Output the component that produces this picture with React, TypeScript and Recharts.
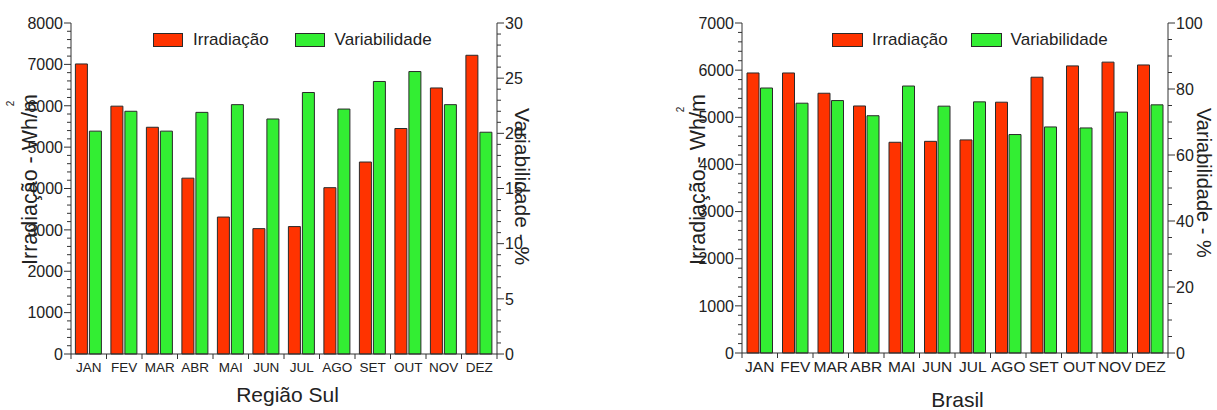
import React from 'react';
import { BarChart, Bar, XAxis, YAxis, Legend } from 'recharts';

const months = ['JAN', 'FEV', 'MAR', 'ABR', 'MAI', 'JUN', 'JUL', 'AGO', 'SET', 'OUT', 'NOV', 'DEZ'];

// Região Sul
const sulIrradiacao = [7010, 5990, 5480, 4250, 3310, 3030, 3080, 4020, 4640, 5450, 6430, 7220];
const sulVariabilidade = [20.2, 22.0, 20.2, 21.9, 22.6, 21.3, 23.7, 22.2, 24.7, 25.6, 22.6, 20.1];

// Brasil
const brasilIrradiacao = [5940, 5940, 5510, 5240, 4470, 4490, 4520, 5320, 5850, 6090, 6170, 6110];
const brasilVariabilidade = [80.3, 75.7, 76.5, 71.9, 80.9, 74.8, 76.1, 66.2, 68.5, 68.2, 73.0, 75.2];

// Axis ticks (major labels) and minor steps
const sulIrrTicks = [0, 1000, 2000, 3000, 4000, 5000, 6000, 7000, 8000];
const sulVarTicks = [0, 5, 10, 15, 20, 25, 30];
const brasilIrrTicks = [0, 1000, 2000, 3000, 4000, 5000, 6000, 7000];
const brasilVarTicks = [0, 20, 40, 60, 80, 100];
const sulIrrMinor = 200;
const sulVarMinor = 1;
const brasilIrrMinor = 200;
const brasilVarMinor = 5;

const RED = '#ff3300';
const GREEN = '#33ee33';
const BAR_STROKE = '#2a2a2a';
const AXIS = '#333333';
const TEXT = '#222222';
const FONT = '"Liberation Sans", Arial, Helvetica, sans-serif';

const sulData = months.map((m, i) => ({ m, irr: sulIrradiacao[i], vari: sulVariabilidade[i] }));
const brasilData = months.map((m, i) => ({ m, irr: brasilIrradiacao[i], vari: brasilVariabilidade[i] }));

function allTicks(majors: number[], step: number) {
  const max = majors[majors.length - 1];
  const out: number[] = [];
  for (let k = 0; k * step <= max + 1e-9; k++) out.push(Math.round(k * step * 1000) / 1000);
  return out;
}

function makeYTick(side: 'left' | 'right', majors: number[], fontSize: number) {
  return (props: any) => {
    const { x, y, payload } = props;
    const isMajor = majors.includes(payload.value);
    const len = isMajor ? 7 : 4;
    const dir = side === 'left' ? -1 : 1;
    return (
      <g>
        <line x1={x} x2={x + dir * len} y1={y} y2={y} stroke={AXIS} strokeWidth={1} />
        {isMajor && (
          <text
            x={x + dir * (len + 1)}
            y={y}
            dy="0.36em"
            textAnchor={side === 'left' ? 'end' : 'start'}
            fontSize={fontSize}
            fontFamily={FONT}
            fill={TEXT}
          >
            {payload.value}
          </text>
        )}
      </g>
    );
  };
}

function makeBottomTick(fontSize: number, labelDy: number) {
  return (props: any) => {
    const { x, y, payload, index, width } = props;
    const half = typeof payload?.offset === 'number' && payload.offset > 0 ? payload.offset : width / (months.length * 2);
    return (
      <g>
        <line x1={x - half} x2={x - half} y1={y} y2={y + 5} stroke={AXIS} />
        {index === months.length - 1 && <line x1={x + half} x2={x + half} y1={y} y2={y + 5} stroke={AXIS} />}
        <text x={x} y={y + labelDy} textAnchor="middle" fontSize={fontSize} fontFamily={FONT} fill={TEXT}>
          {payload.value}
        </text>
      </g>
    );
  };
}

function makeTopTick() {
  return (props: any) => {
    const { x, y, payload, width } = props;
    const half = typeof payload?.offset === 'number' && payload.offset > 0 ? payload.offset : width / (months.length * 2);
    return (
      <g>
        <line x1={x - half} x2={x - half} y1={y} y2={y + 4} stroke={AXIS} />
        <line x1={x} x2={x} y1={y} y2={y + 3} stroke={AXIS} />
      </g>
    );
  };
}

function makeLegend(boxW: number, textGap: number, itemGap: number) {
  return (props: any) => {
    const payload = props.payload || [];
    return (
      <div style={{ display: 'flex', alignItems: 'center', fontFamily: FONT, fontSize: 17, color: TEXT, whiteSpace: 'nowrap' }}>
        {payload.map((p: any, i: number) => (
          <div key={i} style={{ display: 'flex', alignItems: 'center', marginLeft: i ? itemGap : 0 }}>
            <span
              style={{
                display: 'inline-block',
                width: boxW,
                height: 14,
                boxSizing: 'border-box',
                background: p.dataKey === 'irr' ? RED : GREEN,
                border: `1.5px solid ${BAR_STROKE}`,
                marginRight: textGap,
              }}
            />
            <span style={{ lineHeight: '17px' }}>{p.value}</span>
          </div>
        ))}
      </div>
    );
  };
}

type PanelProps = {
  left: number;
  width: number;
  data: any[];
  irrTicks: number[];
  irrMinor: number;
  varTicks: number[];
  varMinor: number;
  leftW: number;
  rightW: number;
  xH: number;
  xFont: number;
  xDy: number;
  yFont: number;
  catGap: number;
  barGap: number;
  legendLeft: number;
  legendBox: number;
  legendTextGap: number;
  legendItemGap: number;
};

function Panel(p: PanelProps) {
  return (
    <div style={{ position: 'absolute', left: p.left, top: 0, width: p.width, height: 410 }}>
      <BarChart
        width={p.width}
        height={410}
        data={p.data}
        margin={{ top: 23, right: 0, bottom: 0, left: 0 }}
        barCategoryGap={p.catGap}
        barGap={p.barGap}
      >
        <XAxis
          xAxisId="b"
          dataKey="m"
          orientation="bottom"
          height={p.xH}
          interval={0}
          tickLine={false}
          tickSize={0}
          tickMargin={0}
          axisLine={{ stroke: AXIS }}
          tick={makeBottomTick(p.xFont, p.xDy)}
        />
        <XAxis
          xAxisId="t"
          dataKey="m"
          orientation="top"
          height={0}
          interval={0}
          tickLine={false}
          tickSize={0}
          tickMargin={0}
          axisLine={{ stroke: AXIS }}
          tick={makeTopTick()}
        />
        <YAxis
          yAxisId="l"
          orientation="left"
          type="number"
          width={p.leftW}
          domain={[0, p.irrTicks[p.irrTicks.length - 1]]}
          ticks={allTicks(p.irrTicks, p.irrMinor)}
          interval={0}
          tickLine={false}
          tickSize={0}
          tickMargin={0}
          axisLine={{ stroke: AXIS }}
          tick={makeYTick('left', p.irrTicks, p.yFont)}
        />
        <YAxis
          yAxisId="r"
          orientation="right"
          type="number"
          width={p.rightW}
          domain={[0, p.varTicks[p.varTicks.length - 1]]}
          ticks={allTicks(p.varTicks, p.varMinor)}
          interval={0}
          tickLine={false}
          tickSize={0}
          tickMargin={0}
          axisLine={{ stroke: AXIS }}
          tick={makeYTick('right', p.varTicks, p.yFont)}
        />
        <Legend
          layout="horizontal"
          verticalAlign="middle"
          align="center"
          content={makeLegend(p.legendBox, p.legendTextGap, p.legendItemGap)}
          wrapperStyle={{ position: 'absolute', left: p.legendLeft, top: 31, width: 'auto' }}
        />
        <Bar
          xAxisId="b"
          yAxisId="l"
          dataKey="irr"
          name="Irradiação"
          fill={RED}
          stroke={BAR_STROKE}
          strokeWidth={1}
          isAnimationActive={false}
        />
        <Bar
          xAxisId="b"
          yAxisId="r"
          dataKey="vari"
          name="Variabilidade"
          fill={GREEN}
          stroke={BAR_STROKE}
          strokeWidth={1}
          isAnimationActive={false}
        />
      </BarChart>
    </div>
  );
}

export default function App() {
  return (
    <div style={{ position: 'absolute', left: 0, top: 0, width: 1217, height: 410, background: '#fff', overflow: 'hidden' }}>
      <Panel
        left={0}
        width={560}
        data={sulData}
        irrTicks={sulIrrTicks}
        irrMinor={sulIrrMinor}
        varTicks={sulVarTicks}
        varMinor={sulVarMinor}
        leftW={71}
        rightW={63}
        xH={56}
        xFont={13.5}
        xDy={17.7}
        yFont={16}
        catGap={4.4}
        barGap={2}
        legendLeft={153}
        legendBox={30}
        legendTextGap={10}
        legendItemGap={26}
      />
      <Panel
        left={620}
        width={597}
        data={brasilData}
        irrTicks={brasilIrrTicks}
        irrMinor={brasilIrrMinor}
        varTicks={brasilVarTicks}
        varMinor={brasilVarMinor}
        leftW={122}
        rightW={49}
        xH={57}
        xFont={15.5}
        xDy={19}
        yFont={16}
        catGap={5}
        barGap={1.5}
        legendLeft={212}
        legendBox={31}
        legendTextGap={9}
        legendItemGap={23}
      />
      <svg width={1217} height={410} style={{ position: 'absolute', left: 0, top: 0, pointerEvents: 'none' }}>
        <g fontFamily={FONT} fill={TEXT}>
          <text transform="translate(37,265) rotate(-90)" textAnchor="start" fontSize={21.5}>
            Irradiação - Wh/m
            <tspan dx={-12} dy={-23} fontSize={10}>2</tspan>
          </text>
          <text transform="translate(515,108) rotate(90)" textAnchor="start" fontSize={21}>
            Variabilidade - %
          </text>
          <text x={287.5} y={401.7} textAnchor="middle" fontSize={21}>
            Região Sul
          </text>
          <text transform="translate(705,265) rotate(-90)" textAnchor="start" fontSize={21.5}>
            Irradiação - Wh/m
            <tspan dx={-18} dy={-21} fontSize={10}>2</tspan>
          </text>
          <text transform="translate(1197,108) rotate(90)" textAnchor="start" fontSize={20}>
            Variabilidade - %
          </text>
          <text x={957.5} y={406.7} textAnchor="middle" fontSize={21}>
            Brasil
          </text>
        </g>
      </svg>
    </div>
  );
}
